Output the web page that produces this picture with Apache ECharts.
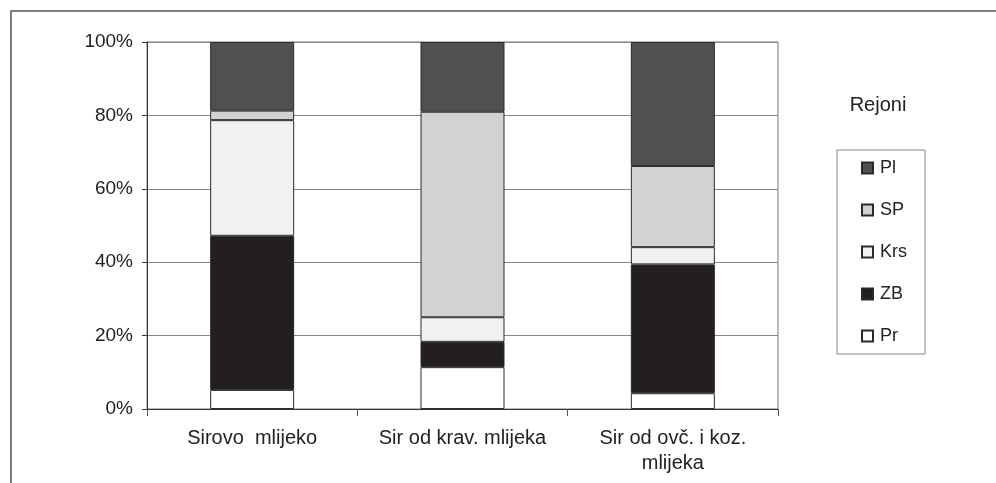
<!DOCTYPE html>
<html>
<head>
<meta charset="utf-8">
<script src="https://cdn.jsdelivr.net/npm/echarts@6/dist/echarts.min.js"></script>
<style>html,body{margin:0;padding:0;background:#fff}#c{width:996px;height:483px}</style>
</head>
<body>
<div id="c"></div>
<script>
var categories = ['Sirovo  mlijeko', 'Sir od krav. mlijeka', 'Sir od ovč. i koz.\nmlijeka'];
var seriesNames = ['Pr', 'ZB', 'Krs', 'SP', 'Pl'];
var Pr  = [5.2, 11.4, 4.3];
var ZB  = [42.0, 6.9, 35.1];
var Krs = [31.5, 6.7, 4.7];
var SP  = [2.6, 56.0, 22.1];
var Pl  = [18.7, 19.0, 33.8];
var yTicks = [0, 20, 40, 60, 80, 100];
var legendOrder = ['Pl', 'SP', 'Krs', 'ZB', 'Pr'];
var colors = {Pr: '#ffffff', ZB: '#231f20', Krs: '#f0f1f2', SP: '#d1d2d4', Pl: '#505052'};
var values = {Pr: Pr, ZB: ZB, Krs: Krs, SP: SP, Pl: Pl};

var font = 'Liberation Sans, Arial, sans-serif';
var chart = echarts.init(document.getElementById('c'), null, {renderer: 'canvas'});
var series = seriesNames.map(function (n) {
  return {
    name: n, type: 'bar', stack: 'all', barWidth: 84,
    data: values[n],
    itemStyle: {color: colors[n], borderColor: '#2a2a2a', borderWidth: 1},
    emphasis: {disabled: true}
  };
});
chart.setOption({
  animation: false,
  backgroundColor: '#ffffff',
  grid: {left: 147, right: 218, top: 42, bottom: 74, show: true, borderColor: '#777', borderWidth: 1},
  xAxis: {
    type: 'category', data: categories,
    axisLine: {lineStyle: {color: '#333', width: 1}},
    axisTick: {show: true, length: 7, lineStyle: {color: '#555'}},
    axisLabel: {color: '#222', fontSize: 20, fontFamily: font, margin: 17, lineHeight: 25, interval: 0}
  },
  yAxis: {
    type: 'value', min: yTicks[0], max: yTicks[yTicks.length - 1], interval: 20,
    axisLine: {show: true, lineStyle: {color: '#333', width: 1}},
    axisTick: {show: true, length: 5, lineStyle: {color: '#333'}},
    axisLabel: {color: '#222', fontSize: 19, fontFamily: font, margin: 14, formatter: '{value}%'},
    splitLine: {show: true, lineStyle: {color: '#888', width: 1}}
  },
  legend: {
    data: legendOrder, orient: 'vertical', left: 856, top: 153,
    itemWidth: 11, itemHeight: 11, itemGap: 22, icon: 'rect',
    textStyle: {color: '#222', fontSize: 18, fontFamily: font, lineHeight: 20, padding: [0, 0, 0, 2]},
    selectedMode: false
  },
  graphic: [
    {type: 'polyline', shape: {points: [[996, 11], [11, 11], [11, 483]]}, style: {stroke: '#555', lineWidth: 1.5, fill: null}},
    {type: 'rect', shape: {x: 837, y: 150, width: 88, height: 204}, style: {stroke: '#888', lineWidth: 1, fill: null}},
    {type: 'text', x: 878, y: 105, style: {text: 'Rejoni', fontSize: 20, fontFamily: font, fill: '#222', align: 'center', verticalAlign: 'middle'}}
  ],
  series: series
});
</script>
</body>
</html>
